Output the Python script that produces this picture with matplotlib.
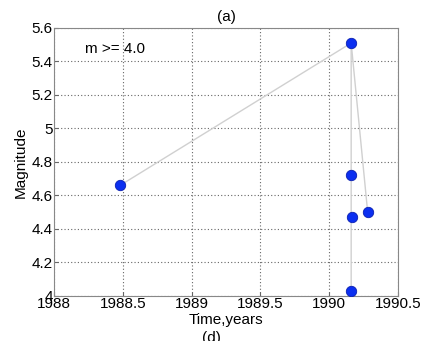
import matplotlib
matplotlib.use("Agg")
import matplotlib.pyplot as plt

# events (time in years, magnitude)
times = [1988.48, 1990.16, 1990.16, 1990.165, 1990.28, 1990.16]
mags = [4.66, 5.51, 4.72, 4.47, 4.50, 4.03]

# connecting lines
path1_t = [1988.48, 1990.16, 1990.16]
path1_m = [4.66, 5.51, 4.03]
path2_t = [1990.16, 1990.28]
path2_m = [5.51, 4.50]

xticks = [1988, 1988.5, 1989, 1989.5, 1990, 1990.5]
xlabels = ["1988", "1988.5", "1989", "1989.5", "1990", "1990.5"]
yticks = [4, 4.2, 4.4, 4.6, 4.8, 5, 5.2, 5.4, 5.6]
ylabels = ["4", "4.2", "4.4", "4.6", "4.8", "5", "5.2", "5.4", "5.6"]

plt.rcParams['font.family'] = ['Liberation Sans', 'DejaVu Sans']

fig = plt.figure(figsize=(4.22, 3.41), dpi=100)
ax = fig.add_axes([0.128, 0.132, 0.815, 0.786])

ax.plot(path1_t, path1_m, color='#d0d0d0', lw=1, zorder=2)
ax.plot(path2_t, path2_m, color='#d0d0d0', lw=1, zorder=2)
ax.plot(times, mags, 'o', ms=7.5, color='#0b2ff0', mec='#0a1fb0', mew=0.6, zorder=3)

ax.set_xlim(1988, 1990.5)
ax.set_ylim(4, 5.6)
ax.set_xticks(xticks)
ax.set_xticklabels(xlabels, fontsize=11)
ax.set_yticks(yticks)
ax.set_yticklabels(ylabels, fontsize=11)
ax.tick_params(direction='in', length=3, color='#666666', pad=1)
ax.grid(True, linestyle=(0, (1, 2)), color='#666666', lw=0.8)
for s in ax.spines.values():
    s.set_color('#888888')

ax.set_xlabel("Time,years", fontsize=11, labelpad=1)
ax.set_ylabel("Magnitude", fontsize=11, labelpad=3)
ax.set_title("(a)", fontsize=11, pad=5)
ax.text(0.09, 0.92, "m >= 4.0", transform=ax.transAxes, fontsize=11, va='center')
fig.text(0.5, 0.028, "(d)", ha='center', va='top', fontsize=11)

fig.savefig("out.png", dpi=100)
